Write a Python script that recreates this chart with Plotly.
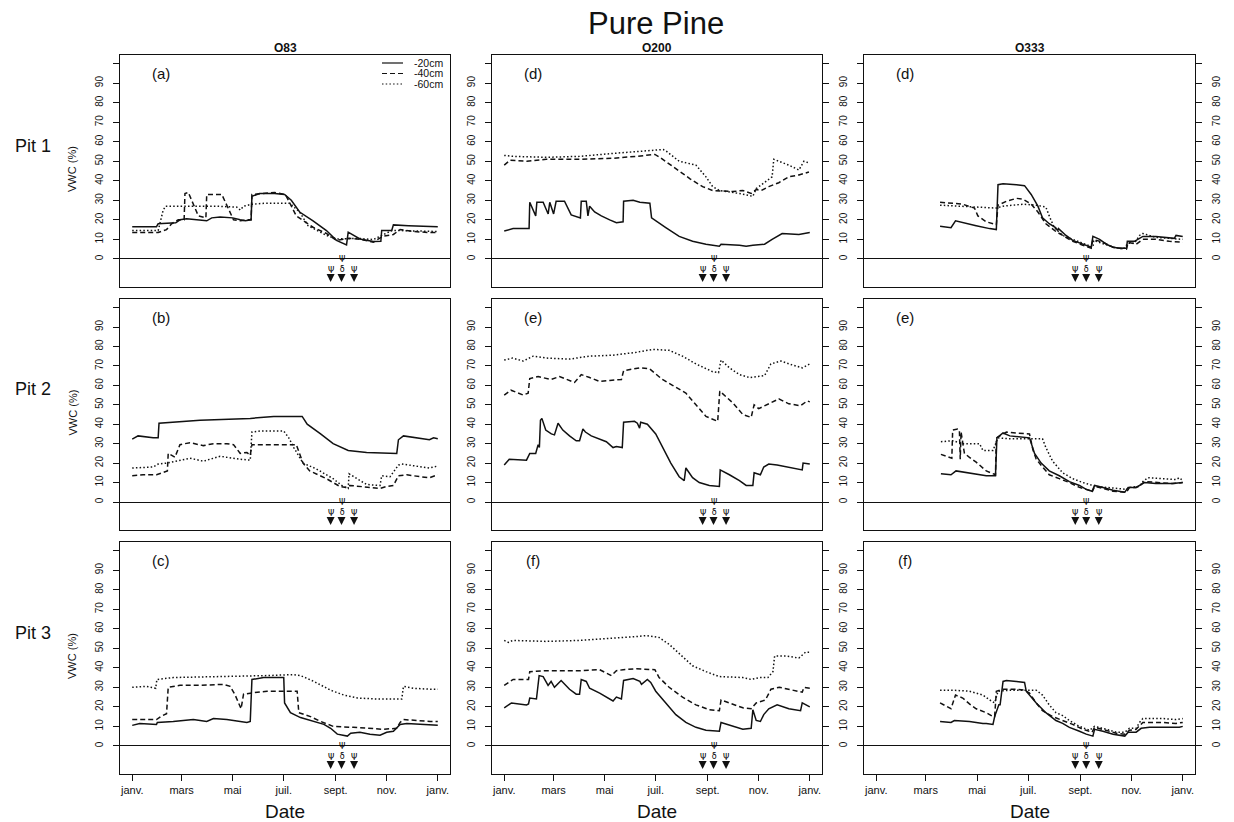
import pandas as pd
import plotly.graph_objects as go

YEAR_START = pd.Timestamp("2013-01-01")

depths = ["-20cm", "-40cm", "-60cm"]
columns = ["O83", "O200", "O333"]
pits = ["Pit 1", "Pit 2", "Pit 3"]
panel_labels = [["(a)", "(d)", "(d)"], ["(b)", "(e)", "(e)"], ["(c)", "(f)", "(f)"]]
month_ticks = ["janv.", "mars", "mai", "juil.", "sept.", "nov.", "janv."]
month_tick_days = [0, 59, 120, 181, 243, 304, 365]
campaign_days = [237, 250, 265]
campaign_symbols = ["Ψ", "Ψ<br>δ", "Ψ"]
vwc_ticks = [0, 10, 20, 30, 40, 50, 60, 70, 80, 90, 100]
vwc_tick_text = ["0", "10", "20", "30", "40", "50", "60", "70", "80", "90", ""]

# (day of year, VWC %) readings for each pit / plot / depth
pit1_o83_20 = [(0, 16.5), (29, 16.5), (31, 18), (52, 18.5), (57, 20), (65, 20.5), (89, 19.5), (95, 21),
               (105, 21.5), (120, 21), (129, 20), (135, 19.5), (142, 20), (143, 32), (152, 33.5), (170, 33.5),
               (182, 33), (190, 30), (200, 24), (216, 19.5), (232, 14.5), (244, 9.5), (256, 7.2), (258, 13.7),
               (272, 10.2), (288, 8.9), (297, 9), (298, 14.5), (310, 14.5), (312, 17.4), (330, 17), (355, 16.5),
               (365, 16.5)]
pit1_o83_40 = [(0, 13.5), (31, 13.5), (41, 15), (47, 18), (55, 20), (62, 20), (63, 33.5), (67, 34), (79, 22),
               (88, 21), (89, 33), (107, 33), (121, 20), (129, 19.5), (137, 20), (142, 20), (143, 33), (170, 34),
               (183, 33), (196, 22), (216, 16.2), (232, 13), (244, 9.5), (258, 10.5), (273, 10), (288, 8.5),
               (299, 11.5), (312, 12.5), (320, 15), (336, 14), (355, 13.5), (365, 13.5)]
pit1_o83_60 = [(0, 14.5), (31, 14.5), (37, 25), (40, 27), (60, 27), (100, 27), (125, 26.5), (129, 25),
               (133, 27), (143, 28), (160, 28.5), (188, 28.5), (200, 24), (210, 17), (232, 12), (244, 10.2),
               (270, 10.5), (288, 9.9), (298, 12), (310, 14.5), (320, 14.5), (355, 14), (365, 14)]

pit2_o83_20 = [(0, 32.3), (7, 34), (25, 33), (31, 33), (32, 40.5), (81, 42), (141, 43), (169, 44), (203, 44),
               (209, 40), (225, 35), (240, 30), (258, 26.5), (280, 25.5), (316, 25), (318, 32), (324, 34),
               (342, 33), (355, 32), (360, 33), (365, 32.5)]
pit2_o83_40 = [(0, 13.5), (13, 14), (29, 14), (39, 15.5), (42, 16), (43, 25), (51, 23), (57, 29.5), (69, 30.5),
               (85, 29), (97, 30), (113, 30), (121, 29.5), (129, 25), (137, 25.5), (141, 24), (143, 29.5),
               (196, 29.5), (204, 20), (212, 16), (232, 12), (248, 8), (256, 7.5), (260, 8.5), (280, 7.5),
               (296, 7), (304, 8), (312, 8.5), (318, 13.5), (328, 14), (344, 13), (355, 12.5), (365, 14)]
pit2_o83_60 = [(0, 17.5), (25, 18), (31, 19.5), (41, 20), (52, 21), (69, 22.5), (85, 21), (105, 23.5),
               (129, 22), (141, 21.5), (143, 36), (153, 36.5), (181, 36.5), (187, 33), (193, 28), (204, 20),
               (220, 17), (240, 12), (252, 8), (258, 7), (259, 14.5), (268, 12), (280, 9), (296, 8.5),
               (298, 13.5), (308, 13), (318, 19), (322, 19.5), (344, 18), (355, 17.5), (365, 18.5)]

pit3_o83_20 = [(0, 10.5), (9, 11.5), (29, 11), (30, 12), (49, 12.5), (65, 13), (73, 13.5), (89, 12.5),
               (97, 14), (113, 13.5), (129, 12.5), (137, 12), (141, 12.5), (143, 34), (157, 35), (181, 35),
               (182, 22), (189, 17), (201, 14.5), (217, 12.5), (229, 11), (237, 9), (245, 6), (257, 5),
               (261, 6.5), (272, 7), (284, 6), (296, 5.5), (304, 7), (312, 7.5), (320, 11), (328, 11.5),
               (344, 11), (356, 10.5), (365, 10.5)]
pit3_o83_40 = [(0, 13.5), (29, 13.5), (34, 15), (41, 16.5), (43, 30), (57, 31), (81, 31), (109, 31.5),
               (117, 30.5), (123, 26), (130, 19), (133, 26.5), (141, 27), (151, 27.5), (161, 28), (177, 28),
               (197, 28), (199, 17), (213, 15), (225, 12.5), (240, 10), (264, 9.5), (280, 9), (300, 8.5),
               (316, 9), (320, 12), (324, 13.5), (336, 13), (356, 12.5), (365, 12.5)]
pit3_o83_60 = [(0, 30), (17, 30.5), (28, 29.5), (29.5, 34), (49, 35), (121, 35.5), (161, 36), (193, 36.5),
               (201, 36), (217, 33), (237, 28.5), (253, 26), (269, 24.5), (293, 24), (322, 24), (324, 30.5),
               (336, 29.5), (356, 29), (365, 29)]

pit1_o200_20 = [(0, 14.3), (10.6, 15.5), (29.7, 15.5), (30.5, 29), (37.6, 22), (39, 29), (46.5, 29), (52.5, 23),
                (54.4, 29), (59, 23), (62, 29.5), (72, 29.5), (80, 22.5), (90, 21), (91, 21), (92, 29.5),
                (98, 29.5), (100, 22), (102, 27), (108, 24), (116, 22), (126, 20), (134, 18.5), (142, 19),
                (142.6, 29.5), (154, 30), (162, 29), (174, 28.5), (176, 21), (193, 16), (209, 11.5), (225, 9),
                (241, 7.5), (257, 6.5), (259, 7.5), (281, 7), (289, 6.5), (297, 7), (311, 7.5), (320, 10),
                (332, 13), (352, 12.5), (362, 13.5), (365, 13.5)]
pit1_o200_40 = [(0, 48), (7, 50.5), (27, 50), (50, 51), (90, 51), (130, 51.5), (158, 52.5), (180, 53.5),
                (186, 52), (202, 47), (222, 41), (237, 37), (249, 35), (273, 34.5), (285, 35), (295, 33.5),
                (301, 35.5), (307, 35), (316, 37), (328, 39), (340, 42), (352, 43), (364, 44.5)]
pit1_o200_60 = [(0, 53), (10, 52.5), (50, 52), (90, 52.5), (130, 54), (162, 55), (190, 56), (194, 55),
                (209, 50), (229, 48), (241, 42), (249, 37), (257, 35), (281, 33.5), (297, 32), (301, 36),
                (313, 40), (320, 42), (322, 51), (340, 48), (352, 45.5), (358, 50), (365, 49)]

pit2_o200_20 = [(0, 19), (6, 22), (26.6, 21.5), (30.5, 25), (37.6, 25), (40.5, 29.5), (42, 28), (43.3, 42),
                (45, 43), (49.6, 37), (56.3, 35), (60, 34.5), (64.3, 40.5), (70, 37), (78, 34), (86, 31.5),
                (90, 31.5), (94, 37.5), (97, 36), (104, 34), (122, 31), (130, 28), (134, 28.5), (141, 28),
                (142.6, 41), (155.6, 41.5), (159, 40.5), (161.7, 38), (163, 41), (171, 40), (181, 35),
                (189, 28), (199, 20), (209, 13), (215, 11), (217, 17.5), (225, 12.5), (233, 10), (245, 8.5),
                (257, 8), (258, 16.5), (269, 14), (281, 11), (289, 8.5), (297, 8.5), (298.5, 15), (306, 14),
                (310, 18), (316, 19.5), (326, 19), (344, 17.5), (356, 16.5), (357, 20), (365, 19.5)]
pit2_o200_40 = [(0, 55), (8, 57.5), (22.7, 55), (28.6, 56), (30.5, 63.5), (40.5, 64.5), (56, 63), (66, 64.5),
                (84, 61.5), (92, 65.5), (102, 64), (114, 62), (126, 62.5), (140, 63), (142.6, 67.5),
                (161.7, 69), (173.6, 68.5), (189, 63), (201, 60), (217, 56), (229, 50), (241, 44), (255, 41.5),
                (257.5, 57), (273, 51), (285, 45), (295, 43.5), (298.5, 50), (304, 48), (316, 50.5), (328, 53),
                (340, 50.5), (354, 49.5), (362, 52), (365, 51.5)]
pit2_o200_60 = [(0, 73), (10, 74), (22.7, 72.5), (34.5, 75), (50.5, 74), (78, 73.5), (102, 75), (130, 75.5),
                (158, 77), (177.5, 78.5), (197, 78), (213, 75), (229, 71), (249, 67), (256, 66.5), (259, 73),
                (269, 69), (281, 65.5), (293, 64), (311, 65), (318.6, 71), (330.5, 72.5), (344, 70.5),
                (356, 69), (365, 71)]

pit3_o200_20 = [(0, 19.5), (8.7, 22), (26.6, 21), (29, 21.5), (30.5, 24.5), (38.5, 24), (41.7, 36), (46.5, 35.5),
                (52.4, 31), (56, 33), (60, 30), (68, 33.5), (78, 29), (86, 26.5), (90, 26.5), (92, 34),
                (98, 33), (102, 29.5), (114, 27), (122, 25), (130, 23), (134, 25), (140, 24), (142.6, 33.5),
                (154, 34.5), (162, 33), (164, 31.5), (171, 34), (175, 32.5), (181, 28), (193, 22), (205, 16),
                (217, 12), (229, 9.5), (241, 8), (257, 7.5), (259, 12), (273, 10), (285, 8.5), (295, 9),
                (297, 18.5), (301, 13), (306, 12.5), (310, 16), (316, 19), (326, 21), (340, 19), (354, 18),
                (356, 22), (365, 20)]
pit3_o200_40 = [(0, 31), (10.7, 34), (29, 34), (30.5, 38), (50.4, 38.5), (90, 38.5), (114, 39), (128, 36),
                (134, 38.5), (142, 39), (158, 39.5), (180, 39), (185, 35), (197, 30), (213, 25), (229, 21),
                (245, 18.5), (257, 18), (259, 23.5), (273, 21.5), (285, 19.5), (295, 19), (301, 22),
                (312, 23.5), (318.6, 29), (328.6, 30), (344, 28.5), (356, 27.5), (358, 30), (365, 29.5)]
pit3_o200_60 = [(0, 54), (5, 53), (10, 54), (50, 53.5), (90, 54), (130, 55), (158, 56), (170, 56.5),
                (185, 55.5), (197, 52), (213, 46), (225, 41), (241, 38), (257, 35.5), (285, 35), (295, 34),
                (305, 35), (315, 35), (321, 38), (323, 46), (337, 46), (352, 45), (360, 48), (365, 48)]

pit1_o333_20 = [(76, 16.7), (89, 16), (94.4, 19.5), (103, 18.5), (119, 17), (135, 15.5), (143, 15), (145, 38),
                (151, 38.5), (167, 38), (176.6, 37.5), (184.5, 33), (192.5, 27), (198, 21), (206, 18),
                (213.5, 16), (216, 14.5), (217, 15.5), (226, 12), (234, 9.5), (246, 7.5), (256, 6),
                (258, 11.5), (266, 10), (274, 7.5), (282, 6), (290, 5.5), (298, 5.5), (299, 9), (307.5, 9),
                (311.5, 10), (317.5, 11.5), (333, 11.5), (349, 11), (355, 10.5), (357, 12), (365, 11.5)]
pit1_o333_40 = [(76, 29), (87, 28.5), (103, 28), (117, 26), (121, 22), (131, 19), (143, 17.5), (145, 27.5),
                (155, 29.5), (167, 31), (175, 30.5), (184.5, 28), (192.5, 24), (202, 18), (214, 14), (222, 12),
                (234, 9), (246, 7), (256, 5.5), (258, 10), (270, 8.5), (282, 6), (294, 5), (298, 5),
                (300, 8.5), (309.5, 7.5), (317.5, 10), (333, 10), (349, 9), (365, 8.5)]
pit1_o333_60 = [(76, 27.5), (95, 27), (119, 26.5), (143, 26), (151, 27), (175, 28), (190.5, 27.5), (202, 26.5),
                (206, 22), (212, 16), (222, 12), (234, 10), (246, 8), (258, 6), (259, 9.5), (270, 8), (282, 6),
                (294, 5), (300, 8), (307.5, 8), (313.5, 12), (317.5, 13), (333, 11), (349, 10.5), (365, 10)]

pit2_o333_20 = [(77, 14.5), (89, 14), (95, 16), (103, 15.5), (119, 14.5), (131, 13.5), (142, 13.5),
                (143.7, 33), (151, 35.5), (159, 34), (182.5, 33), (188.5, 25), (196.4, 20), (206, 16),
                (218, 13.5), (230, 10.5), (242, 8.5), (250, 6.5), (257, 5.5), (260, 8.5), (270, 7.5), (282, 6),
                (296, 5), (300, 7.5), (309.5, 7.5), (315.5, 9), (319.4, 10), (333, 9.5), (353, 9.5), (365, 10)]
pit2_o333_40 = [(77, 24.5), (89, 22.5), (90, 22.5), (91, 37), (97, 37.5), (99, 37), (100, 22), (101, 36),
                (105, 25), (111, 23), (119, 20.5), (131, 16), (142, 14), (143, 33), (155, 36), (167, 35.5),
                (182.5, 35), (186.5, 27), (190.5, 22), (198, 18), (206, 14), (218, 12), (230, 10), (242, 7.5),
                (254, 6), (257, 5), (260, 8), (270, 7), (282, 5.5), (298, 5), (301.6, 7.5), (309.5, 7.5),
                (315.5, 9), (319.4, 10.5), (333, 10), (353, 9.5), (365, 10)]
pit2_o333_60 = [(77, 31), (91, 31.5), (103, 30), (123, 30), (127, 26.5), (139, 26.5), (145, 33), (159, 32.5),
                (198, 32.5), (202, 28), (210, 21), (222, 15), (234, 12), (246, 10), (262, 8), (278, 7.5),
                (290, 7), (298, 6.5), (301.6, 7.5), (313.5, 8), (317.5, 10.5), (323.4, 12.5), (341, 12),
                (357, 11.5), (361, 12.5), (365, 11)]

pit3_o333_20 = [(76, 12.5), (89, 12), (93, 13), (111, 12.5), (127, 11.5), (131, 11.5), (139, 11), (141, 15),
                (146, 21), (147.5, 21), (151, 33), (155, 33.5), (167, 33), (176.6, 32.5), (178.6, 28),
                (190.5, 22), (202, 17), (214, 13), (222, 11.5), (230, 9.5), (242, 7.5), (250, 6), (258, 5),
                (260, 8.5), (270, 7.5), (282, 6), (296, 5), (300, 7), (309.5, 7), (315.5, 9), (325.4, 9.5),
                (349, 9.5), (361, 9.5), (365, 10)]
pit3_o333_40 = [(76, 22), (89, 19), (94.4, 26), (103, 24.5), (111, 21.5), (119, 19), (131, 17), (139, 15),
                (141, 15), (143, 28), (151, 29), (167, 29), (176.6, 28.5), (182.5, 27), (190.5, 22), (198, 18),
                (210, 15), (222, 13), (234, 11), (246, 8.5), (257, 7), (260, 9.5), (274, 8), (286, 6.5),
                (296, 6), (301.6, 8), (309.5, 8.5), (313.5, 10.5), (317.5, 12), (341, 12), (357, 11.5),
                (365, 12)]
pit3_o333_60 = [(76, 28.5), (91, 28.5), (111, 28), (127, 26), (137, 23), (141, 22), (145, 28), (159, 28.5),
                (176.6, 28.5), (190.5, 28.5), (198, 26), (206, 21), (214, 17), (222, 15.5), (230, 13),
                (242, 10), (254, 8), (260, 10), (274, 8.5), (286, 7), (296, 7), (301.6, 9), (309.5, 9),
                (313.5, 12), (317.5, 14), (341, 14), (357, 13.5), (365, 14)]

series = [
    [[pit1_o83_20, pit1_o83_40, pit1_o83_60], [pit1_o200_20, pit1_o200_40, pit1_o200_60],
     [pit1_o333_20, pit1_o333_40, pit1_o333_60]],
    [[pit2_o83_20, pit2_o83_40, pit2_o83_60], [pit2_o200_20, pit2_o200_40, pit2_o200_60],
     [pit2_o333_20, pit2_o333_40, pit2_o333_60]],
    [[pit3_o83_20, pit3_o83_40, pit3_o83_60], [pit3_o200_20, pit3_o200_40, pit3_o200_60],
     [pit3_o333_20, pit3_o333_40, pit3_o333_60]],
]

# ---------------------------------------------------------------- layout
W, H = 1234, 822
col_px = [(120, 450), (492, 822), (864, 1195)]
row_px = [(55, 287), (299, 530), (542, 774)]
FONT = "Liberation Sans, Arial, Helvetica, sans-serif"
INK = "#111111"
LINE_W = 1.5
dash_styles = ["solid", "5px,3px", "1.5px,2.2px"]


def day_to_date(d):
    return (YEAR_START + pd.Timedelta(days=d)).strftime("%Y-%m-%d %H:%M")


def px_x(p):
    return p / W


def px_y(p):
    return 1 - p / H


def ax_id(letter, k):
    return letter if k == 1 else f"{letter}{k}"


x_range = [day_to_date(-14.6), day_to_date(379.6)]
y_range = [-14.4, 104.4]

fig = go.Figure()
layout = dict(
    width=W, height=H, margin=dict(l=0, r=0, t=0, b=0),
    paper_bgcolor="white", plot_bgcolor="white", showlegend=False,
    font=dict(family=FONT, color=INK),
)
annotations = []
shapes = []

for r in range(3):
    for c in range(3):
        k = r * 3 + c + 1
        xa, ya = ax_id("x", k), ax_id("y", k)
        for i, pts in enumerate(series[r][c]):
            fig.add_trace(go.Scatter(
                x=[day_to_date(p[0]) for p in pts], y=[p[1] for p in pts],
                mode="lines", name=depths[i], xaxis=xa, yaxis=ya,
                line=dict(color=INK, width=LINE_W, dash=dash_styles[i]),
                hoverinfo="skip",
            ))
        xaxis = dict(
            domain=[px_x(col_px[c][0]), px_x(col_px[c][1])], anchor=ya, type="date",
            range=x_range, showgrid=False, zeroline=False, showline=True, linecolor=INK,
            linewidth=1, mirror=True,
        )
        if r == 2:
            xaxis.update(tickvals=[day_to_date(d) for d in month_tick_days], ticktext=month_ticks,
                         ticks="outside", ticklen=6, tickcolor=INK, tickfont=dict(size=11, family=FONT))
        else:
            xaxis.update(showticklabels=False, ticks="")
        yaxis = dict(
            domain=[px_y(row_px[r][1]), px_y(row_px[r][0])], anchor=xa, range=y_range,
            tickvals=vwc_ticks, ticktext=vwc_tick_text, ticks="outside", ticklen=6, tickcolor=INK,
            tickangle=-90, tickfont=dict(size=10, family=FONT), ticklabelstandoff=6,
            showgrid=False, zeroline=True, zerolinecolor=INK, zerolinewidth=1,
            showline=True, linecolor=INK, linewidth=1, mirror=True,
        )
        if c == 2:
            yaxis.update(side="right", mirror="allticks")
        layout[ax_id("xaxis", k)] = xaxis
        layout[ax_id("yaxis", k)] = yaxis

        annotations.append(dict(
            text=panel_labels[r][c], xref=f"{xa} domain", yref=f"{ya} domain", x=0.125, y=0.922,
            showarrow=False, font=dict(size=15, family=FONT), xanchor="center", yanchor="middle"))

        for j, d in enumerate(campaign_days):
            annotations.append(dict(
                x=day_to_date(d), y=-11.8, xref=xa, yref=ya, text=campaign_symbols[j],
                showarrow=True, arrowhead=2, arrowsize=1.0, arrowwidth=1.6, arrowcolor=INK,
                ax=0, ay=-17 if j == 1 else -11, standoff=0, borderpad=0,
                font=dict(size=8, family="DejaVu Sans", color="#000000")))

# right-hand labelled axis for the middle column
extra = 10
for r in range(3):
    k = r * 3 + 2
    fig.add_trace(go.Scatter(x=[None], y=[None], xaxis=f"x{k}", yaxis=f"y{extra}",
                             mode="lines", hoverinfo="skip", showlegend=False))
    layout[f"yaxis{extra}"] = dict(
        overlaying=f"y{k}", side="right", anchor=f"x{k}", range=y_range,
        tickvals=vwc_ticks, ticktext=vwc_tick_text, ticks="outside", ticklen=6, tickcolor=INK,
        tickangle=-90, tickfont=dict(size=10, family=FONT), ticklabelstandoff=6,
        showgrid=False, zeroline=False, showline=False)
    extra += 1

# titles
annotations.append(dict(text="Pure Pine", xref="paper", yref="paper", x=px_x(656), y=px_y(23),
                        showarrow=False, font=dict(size=31, family=FONT), xanchor="center", yanchor="middle"))
for c, name in enumerate(columns):
    annotations.append(dict(text=f"<b>{name}</b>", xref="paper", yref="paper",
                            x=px_x((col_px[c][0] + col_px[c][1]) / 2), y=px_y(48), showarrow=False,
                            font=dict(size=12, family=FONT), xanchor="center", yanchor="middle"))
    annotations.append(dict(text="Date", xref="paper", yref="paper",
                            x=px_x((col_px[c][0] + col_px[c][1]) / 2), y=px_y(811), showarrow=False,
                            font=dict(size=19, family=FONT), xanchor="center", yanchor="middle"))
for r, name in enumerate(pits):
    mid = (row_px[r][0] + row_px[r][1]) / 2
    annotations.append(dict(text=name, xref="paper", yref="paper", x=px_x(33), y=px_y(mid - 25),
                            showarrow=False, font=dict(size=18, family=FONT), xanchor="center",
                            yanchor="middle"))
    annotations.append(dict(text="VWC (%)", xref="paper", yref="paper", x=px_x(72), y=px_y(mid - 2),
                            showarrow=False, textangle=-90, font=dict(size=11, family=FONT),
                            xanchor="center", yanchor="middle"))

# legend inside panel (a)
for i, name in enumerate(depths):
    yy = px_y(63 + 10.5 * i)
    shapes.append(dict(type="line", xref="paper", yref="paper", x0=px_x(382), x1=px_x(403), y0=yy, y1=yy,
                       line=dict(color=INK, width=1.2, dash=dash_styles[i])))
    annotations.append(dict(text=name, xref="paper", yref="paper", x=px_x(412), y=yy, showarrow=False,
                            font=dict(size=10.5, family=FONT), xanchor="left", yanchor="middle"))

layout["annotations"] = annotations
layout["shapes"] = shapes
fig.update_layout(**layout)
fig.write_html("out.html")
